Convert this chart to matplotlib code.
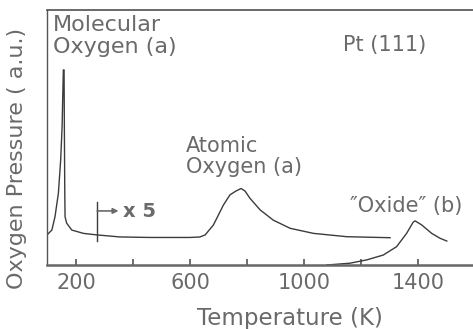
import matplotlib.pyplot as plt

# thermal desorption of oxygen from Pt(111): temperature (K) vs signal (a.u.)
molecular_T = [98, 115, 126, 138, 146, 151, 153, 155.4, 157.9, 158.9, 160.4, 161.4,
               167, 185, 226, 273, 354, 460, 600, 635, 653, 682, 717, 740, 761,
               779, 793, 810, 846, 892, 951, 1033, 1150, 1302]
molecular_p = [11.8, 13.7, 18.9, 28.2, 41.2, 54.2, 64.7, 76.5, 76.5, 54.2, 28.2, 18.9,
               16.4, 13.7, 12.4, 11.8, 11.0, 10.8, 10.8, 11.0, 11.8, 15.7, 23.5, 27.5, 29.0,
               30.0, 29.0, 26.2, 21.6, 17.6, 14.4, 12.4, 11.1, 10.7]

oxide_T = [1080, 1161, 1220, 1278, 1325, 1360, 1383, 1390, 1413, 1448, 1477, 1501]
oxide_p = [0.0, 0.7, 2.0, 3.9, 7.2, 12.4, 16.8, 17.3, 15.7, 12.4, 10.5, 9.4]

gain_T = 274            # sensitivity switched to x5 here
gain_p = [9.4, 24.7]

tick_T = [200, 400, 600, 800, 1000, 1200, 1400]
tick_labels = ['200', '', '600', '', '1000', '', '1400']

ink = '#3c3c3c'
grey = '#6a6a6a'

fig = plt.figure(figsize=(4.73, 3.29), dpi=100)
ax = fig.add_axes([47 / 473, 64 / 329, 426 / 473, 255 / 329])

ax.plot(molecular_T, molecular_p, color=ink, lw=1.0)
ax.plot(oxide_T, oxide_p, color=ink, lw=1.0)

# x5 marker
ax.plot([gain_T, gain_T], gain_p, color=ink, lw=1.0)
ax.annotate('', xy=(gain_T + 75, 21.2), xytext=(gain_T, 21.2),
            arrowprops=dict(arrowstyle='-|>', color=grey, lw=1.2,
                            mutation_scale=8, shrinkA=0, shrinkB=0))
ax.text(gain_T + 91, 18.8, 'x 5', fontsize=14, color=grey, va='baseline',
        fontweight='bold')

ax.text(119, 91.8, 'Molecular', fontsize=16, color=grey, va='baseline')
ax.text(119, 83.1, 'Oxygen (a)', fontsize=16, color=grey, va='baseline')
ax.text(1137, 83.9, 'Pt (111)', fontsize=15, color=grey, va='baseline')
ax.text(586, 44.3, 'Atomic', fontsize=15, color=grey, va='baseline')
ax.text(586, 36.1, 'Oxygen (a)', fontsize=15, color=grey, va='baseline')
ax.text(1161, 20.9, '\u2033Oxide\u2033 (b)', fontsize=15, color=grey, va='baseline')

ax.set_xlim(98, 1593)
ax.set_ylim(0, 100)
ax.set_xticks(tick_T)
ax.set_xticklabels(tick_labels)
ax.set_yticks([])
ax.tick_params(axis='x', direction='in', length=4, width=1.2, color='#555555',
               labelsize=15, labelcolor=grey, pad=6)

ax.spines['right'].set_visible(False)
ax.spines['left'].set_color('#555555')
ax.spines['left'].set_linewidth(1.0)
ax.spines['bottom'].set_color('#666666')
ax.spines['bottom'].set_linewidth(1.8)
ax.spines['top'].set_color('#505050')
ax.spines['top'].set_linewidth(1.2)

fig.text(290 / 473, 1 - 325 / 329, 'Temperature (K)', fontsize=16.5, color=grey,
         ha='center', va='baseline')
fig.text(17 / 473, 1 - 158 / 329, 'Oxygen Pressure ( a.u.)', fontsize=16, color=grey,
         ha='center', va='center', rotation=90)

fig.savefig('out.png', dpi=100)
